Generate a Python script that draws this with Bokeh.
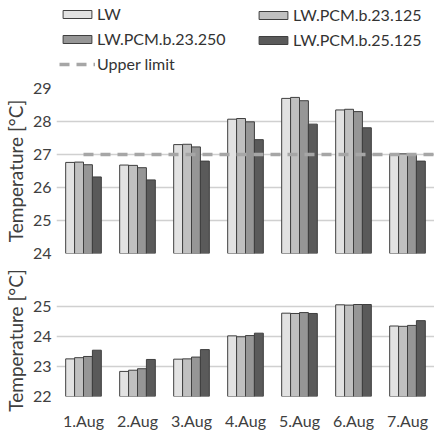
from bokeh.plotting import figure
from bokeh.models import Range1d, FixedTicker, Legend, LegendItem, ColumnDataSource
from bokeh.layouts import column
from bokeh.embed import file_html
from bokeh.resources import INLINE

days = ["1.Aug", "2.Aug", "3.Aug", "4.Aug", "5.Aug", "6.Aug", "7.Aug"]
series = ["LW", "LW.PCM.b.23.125", "LW.PCM.b.23.250", "LW.PCM.b.25.125"]

# Upper chart values (°C)
top_lw = [26.76, 26.68, 27.30, 28.07, 28.70, 28.35, 27.00]
top_23125 = [26.77, 26.67, 27.31, 28.09, 28.73, 28.37, 27.02]
top_23250 = [26.69, 26.60, 27.23, 27.99, 28.63, 28.30, 26.98]
top_25125 = [26.32, 26.23, 26.80, 27.45, 27.92, 27.81, 26.80]

# Lower chart values (°C)
bot_lw = [23.26, 22.84, 23.25, 24.03, 24.79, 25.07, 24.36]
bot_23125 = [23.30, 22.88, 23.26, 24.00, 24.78, 25.06, 24.35]
bot_23250 = [23.34, 22.93, 23.32, 24.04, 24.81, 25.08, 24.38]
bot_25125 = [23.55, 23.24, 23.57, 24.12, 24.78, 25.08, 24.54]

upper_limit = 27.0
top_ticks = [24, 25, 26, 27, 28, 29]
bot_ticks = [22, 23, 24, 25]

colors = ["#e2e2e2", "#c0c0c0", "#969696", "#5a5a5a"]
outline = "#3f3f3f"
grid_col = "#d0d0d0"
text_col = "#404040"
limit_col = "#a6a6a6"
FONT = "Lato"

n = len(days)
centers = [i + 0.5 for i in range(n)]
bar_w = 0.165


def style(p, ticks):
    p.yaxis.ticker = FixedTicker(ticks=ticks)
    p.yaxis.axis_line_color = None
    p.yaxis.major_tick_line_color = None
    p.yaxis.minor_tick_line_color = None
    p.yaxis.major_tick_out = 0
    p.yaxis.major_tick_in = 0
    p.yaxis.minor_tick_out = 0
    p.yaxis.major_label_text_font = FONT
    p.yaxis.major_label_text_font_size = "16px"
    p.yaxis.major_label_text_color = text_col
    p.yaxis.major_label_standoff = 5
    p.yaxis.axis_label = "Temperature [°C]"
    p.yaxis.axis_label_text_font = FONT
    p.yaxis.axis_label_text_font_size = "19px"
    p.yaxis.axis_label_text_font_style = "normal"
    p.yaxis.axis_label_text_color = text_col
    p.yaxis.axis_label_standoff = 3
    p.ygrid.ticker = FixedTicker(ticks=ticks)
    p.ygrid.grid_line_color = grid_col
    p.ygrid.grid_line_width = 1.5
    p.xgrid.grid_line_color = None
    p.outline_line_color = None
    p.background_fill_color = "white"
    p.border_fill_color = "white"


def add_bars(p, vals_list, base):
    rends = []
    for j, vals in enumerate(vals_list):
        off = (j - 1.5) * bar_w
        src = ColumnDataSource(dict(x=[c + off for c in centers], top=vals,
                                    bottom=[base] * n))
        r = p.vbar(x="x", top="top", bottom="bottom", width=bar_w, source=src,
                   fill_color=colors[j], line_color=outline, line_width=1)
        rends.append(r)
    return rends


# ---- legend strip (its sample marks sit outside the visible range) ----
pl = figure(width=434, height=74, output_backend="svg", toolbar_location=None,
            x_range=Range1d(0, 1), y_range=Range1d(0, 1),
            x_axis_location=None, y_axis_location=None,
            min_border_left=0, min_border_right=0, min_border_top=0,
            min_border_bottom=0)
pl.outline_line_color = None
pl.xgrid.grid_line_color = None
pl.ygrid.grid_line_color = None
leg_r = [pl.vbar(x=[-5], top=[-5], bottom=[-6], width=0.1,
                 fill_color=colors[j], line_color=outline, line_width=1)
         for j in range(4)]
leg_line = pl.line(x=[-5, -4], y=[-5, -5], line_color=limit_col, line_width=3.5,
                   line_dash="10 7")

leg_kw = dict(orientation="vertical", padding=0, margin=0, spacing=6,
              border_line_color=None, background_fill_alpha=0,
              glyph_width=36, glyph_height=10, label_standoff=2, label_height=18,
              label_text_font=FONT, label_text_font_size="16px",
              label_text_color="#333333")
leg1 = Legend(items=[LegendItem(label=series[0], renderers=[leg_r[0]]),
                     LegendItem(label=series[2], renderers=[leg_r[2]]),
                     LegendItem(label="Upper limit", renderers=[leg_line])],
              location=(3, 1), **leg_kw)
leg2 = Legend(items=[LegendItem(label=series[1], renderers=[leg_r[1]]),
                     LegendItem(label=series[3], renderers=[leg_r[3]])],
              location=(199, 25), **leg_kw)
pl.add_layout(leg1, "center")
pl.add_layout(leg2, "center")

# ---- top chart ----
p1 = figure(width=434, height=189, output_backend="svg", toolbar_location=None,
            x_range=Range1d(0, n), y_range=Range1d(top_ticks[0], top_ticks[-1]),
            x_axis_location=None, min_border_left=52, min_border_right=0,
            min_border_top=14, min_border_bottom=10)
style(p1, top_ticks)
add_bars(p1, [top_lw, top_23125, top_23250, top_25125], top_ticks[0])
line_x = centers + [n]
p1.line(x=line_x, y=[upper_limit] * len(line_x), line_color=limit_col,
        line_width=3.5, line_dash="10 7")

# ---- bottom chart ----
p2 = figure(width=434, height=169, output_backend="svg", toolbar_location=None,
            x_range=Range1d(0, n), y_range=Range1d(bot_ticks[0], 25.75),
            min_border_left=52, min_border_right=0,
            min_border_top=21, min_border_bottom=34)
style(p2, bot_ticks)
add_bars(p2, [bot_lw, bot_23125, bot_23250, bot_25125], bot_ticks[0])
p2.xaxis.ticker = FixedTicker(ticks=centers)
p2.xaxis.major_label_overrides = {c: d for c, d in zip(centers, days)}
p2.xaxis.axis_line_color = None
p2.xaxis.major_tick_line_color = None
p2.xaxis.minor_tick_line_color = None
p2.xaxis.major_tick_out = 0
p2.xaxis.major_tick_in = 0
p2.xaxis.minor_tick_out = 0
p2.xaxis.major_label_text_font = FONT
p2.xaxis.major_label_text_font_size = "16px"
p2.xaxis.major_label_text_color = text_col
p2.xaxis.major_label_standoff = 14

layout = column(pl, p1, p2, spacing=0)
open("out.html", "w").write(file_html(layout, INLINE))
